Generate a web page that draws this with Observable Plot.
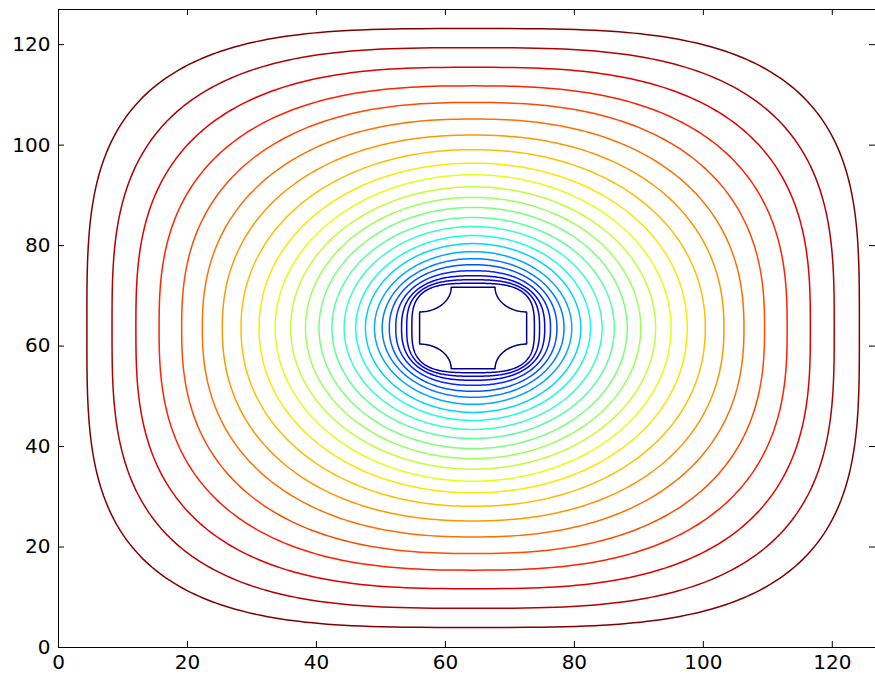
<!DOCTYPE html>
<html><head><meta charset="utf-8">
<script src="https://cdn.jsdelivr.net/npm/d3@7"></script>
<script src="https://cdn.jsdelivr.net/npm/@observablehq/plot@0.6"></script>
<style>body{margin:0;background:#fff}</style>
</head><body><div id="chart"></div>
<script>
// contour levels (cross outline is level 0, outermost is level 24)
const levels     = [1, 2, 3, 4, 5, 6, 7, 8, 9, 10, 11, 12, 13, 14, 15, 16, 17, 18, 19, 20, 21, 22, 23, 24];
// half extents of each contour (data units)
const halfWidth  = [9.5, 10.3, 11.1, 12.0, 13.0, 14.1, 15.3, 16.7, 18.2, 20.0, 21.9, 23.9, 26.0, 28.3, 30.7, 33.2, 36.0, 38.9, 42.0, 45.2, 48.7, 52.3, 56.0, 59.9];
const halfHeight = [8.9, 9.6, 10.4, 11.4, 12.6, 13.8, 15.2, 16.8, 18.4, 20.2, 22.0, 24.0, 26.0, 28.1, 30.5, 32.8, 35.5, 38.4, 41.6, 44.9, 48.2, 51.9, 55.8, 59.6];
// squareness (superellipse exponent) of each contour
const squareness = [3.2, 2.8, 2.5, 2.3, 2.15, 2.05, 2.0, 2.0, 2.0, 2.0, 2.0, 2.0, 2.0, 2.0, 2.0, 2.05, 2.1, 2.2, 2.3, 2.45, 2.6, 2.8, 3.05, 3.4];
const centerX = 64.3, centerY = 63.6;
// inner cross-shaped boundary
const crossHalfWidth = 8.3, crossHalfHeight = 8.1, crossBiteRadius = 4.9, crossBiteOffset = 0;
const crossLevel = 0, topLevel = 24;
const xTicks = [0, 20, 40, 60, 80, 100, 120];
const yTicks = [0, 20, 40, 60, 80, 100, 120];
// jet colormap anchors
const jetStops  = [0, 0.11, 0.125, 0.34, 0.35, 0.375, 0.64, 0.65, 0.66, 0.89, 0.91, 1];
const jetColors = ["rgb(0,0,128)", "rgb(0,0,255)", "rgb(0,0,255)", "rgb(0,219,255)", "rgb(0,229,247)", "rgb(21,255,226)",
                   "rgb(238,255,8)", "rgb(247,246,0)", "rgb(255,236,0)", "rgb(255,19,0)", "rgb(232,0,0)", "rgb(128,0,0)"];

const N = 360;
const contourRows = [];
levels.forEach((lv, k) => {
  const a = halfWidth[k], b = halfHeight[k], p = squareness[k];
  for (let i = 0; i <= N; i++) {
    const th = 2 * Math.PI * i / N, c = Math.cos(th), s = Math.sin(th);
    contourRows.push({
      level: lv,
      x: centerX + a * Math.sign(c) * Math.pow(Math.abs(c), 2 / p),
      y: centerY + b * Math.sign(s) * Math.pow(Math.abs(s), 2 / p)
    });
  }
});

// cross outline
const crossRows = [];
function corner(sx, sy, horizFirst) {
  const r = crossBiteRadius, o = crossBiteOffset, s = Math.sqrt(r * r - o * o);
  const bx = centerX + sx * (crossHalfWidth + o), by = centerY + sy * (crossHalfHeight + o);
  const H = [bx - sx * s, centerY + sy * crossHalfHeight];
  const V = [centerX + sx * crossHalfWidth, by - sy * s];
  const [P, Q] = horizFirst ? [H, V] : [V, H];
  const a1 = Math.atan2(P[1] - by, P[0] - bx);
  let a2 = Math.atan2(Q[1] - by, Q[0] - bx);
  let d = a2 - a1;
  while (d > Math.PI) d -= 2 * Math.PI;
  while (d < -Math.PI) d += 2 * Math.PI;
  const M = 40;
  for (let i = 0; i <= M; i++) {
    const a = a1 + d * i / M;
    crossRows.push({level: crossLevel, x: bx + r * Math.cos(a), y: by + r * Math.sin(a)});
  }
}
corner(1, 1, true);
corner(1, -1, false);
corner(-1, -1, true);
corner(-1, 1, false);
crossRows.push({...crossRows[0]});

const chart = Plot.plot({
  width: 875, height: 680,
  marginLeft: 58, marginRight: 0, marginTop: 9, marginBottom: 33,
  x: {domain: [0, 126.7], ticks: xTicks, tickSize: 0, tickPadding: 7, label: null},
  y: {domain: [0, 127], ticks: yTicks, tickSize: 0, tickPadding: 8, label: null},
  color: {type: "linear", domain: jetStops.map(t => t * topLevel), range: jetColors, interpolate: "rgb"},
  style: {fontFamily: "DejaVu Sans", fontSize: "20px", color: "#000", background: "#fff"},
  marks: [
    Plot.line(contourRows, {x: "x", y: "y", z: "level", stroke: "level", strokeWidth: 1.5, curve: "linear"}),
    Plot.line(crossRows, {x: "x", y: "y", stroke: "level", strokeWidth: 1.5, curve: "linear"}),
    Plot.frame({stroke: "#000", strokeWidth: 1}),
    Plot.tickX(xTicks, {x: d => d, insetTop: 632, stroke: "#000"}),
    Plot.tickX(xTicks, {x: d => d, insetBottom: 632, stroke: "#000"}),
    Plot.tickY(yTicks, {y: d => d, insetRight: 811, stroke: "#000"}),
    Plot.tickY(yTicks, {y: d => d, insetLeft: 811, stroke: "#000"})
  ]
});
document.getElementById("chart").appendChild(chart);
</script>
</body></html>
